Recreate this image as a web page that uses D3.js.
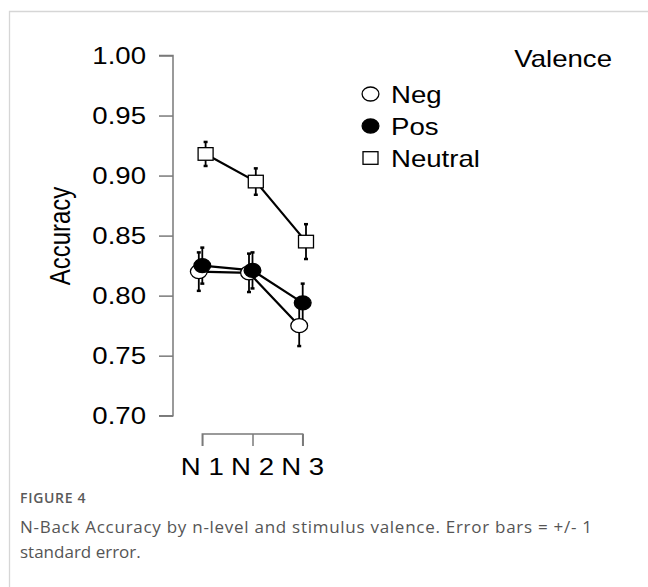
<!DOCTYPE html>
<html>
<head>
<meta charset="utf-8">
<script src="https://cdn.jsdelivr.net/npm/d3@7"></script>
<style>
  html, body { margin: 0; padding: 0; background: #fff; }
  svg { display: block; }
</style>
</head>
<body>
<svg id="chart" width="648" height="587"></svg>
<script>
// ---- data ----
const levels = ["N 1", "N 2", "N 3"];
const seriesNames = ["Neg", "Pos", "Neutral"];
const negMean = [0.820, 0.819, 0.775];
const negSE = [0.016, 0.016, 0.017];
const posMean = [0.825, 0.821, 0.794];
const posSE = [0.015, 0.015, 0.016];
const neutralMean = [0.918, 0.895, 0.845];
const neutralSE = [0.010, 0.011, 0.0145];
const yTicks = [0.70, 0.75, 0.80, 0.85, 0.90, 0.95, 1.00];
const captionTitle = "FIGURE 4";
const captionLines = ["N-Back Accuracy by n-level and stimulus valence. Error bars = +/- 1", "standard error."];

const series = [
  { name: "Neg", mean: negMean, se: negSE, shape: "circle", fill: "#fff", dodge: -3.5 },
  { name: "Pos", mean: posMean, se: posSE, shape: "circle", fill: "#000", dodge: 0 },
  { name: "Neutral", mean: neutralMean, se: neutralSE, shape: "square", fill: "#fff", dodge: 3.3 }
];

const svg = d3.select("#chart");
const SX = 1.2; // horizontal stretch of the original raster
const chartFont = "'Liberation Sans', Arial, Helvetica, sans-serif";

// card border
svg.append("path").attr("d", "M9.5,587 V11.5 H648")
  .attr("fill", "none").attr("stroke", "#d6d6d6").attr("stroke-width", 1.3);

const y = d3.scaleLinear().domain([0.70, 1.00]).range([415.7, 55.5]);
const x = d3.scalePoint().domain(levels).range([202.3, 302.7]);

// y axis
const axisColor = "#7a7a7a";
const yAxis = svg.append("g").attr("transform", "translate(173,0)")
  .call(d3.axisLeft(y).tickValues(yTicks).tickSize(14).tickFormat(""));
yAxis.selectAll("path, line").attr("stroke", axisColor).attr("stroke-width", 1.5);
yAxis.select(".domain").attr("d", `M-14,${y(0.70)}H0V${y(1.00)}H-14`);

svg.append("g").selectAll("text").data(yTicks).join("text")
  .attr("transform", d => `translate(146,${y(d) + 8.3}) scale(${SX},1)`)
  .attr("text-anchor", "end")
  .attr("font-family", chartFont).attr("font-size", 23).attr("fill", "#000")
  .text(d => d3.format(".2f")(d));

// y title
svg.append("text")
  .attr("transform", `translate(69.6,236) scale(${SX},1) rotate(-90)`)
  .attr("text-anchor", "middle")
  .attr("font-family", chartFont).attr("font-size", 24).attr("fill", "#000")
  .text("Accuracy");

// x axis (bracket)
const xAxis = svg.append("g").attr("transform", "translate(0,434)")
  .call(d3.axisBottom(x).tickSize(12).tickSizeOuter(0).tickFormat(""));
xAxis.selectAll("path, line").attr("stroke", axisColor).attr("stroke-width", 1.5);
xAxis.select(".domain").attr("d", `M${x(levels[0])},12V0H${x(levels[2])}V12`);

svg.append("g").selectAll("text").data(levels).join("text")
  .attr("transform", d => `translate(${x(d)},475) scale(${SX},1)`)
  .attr("text-anchor", "middle")
  .attr("font-family", chartFont).attr("font-size", 23).attr("fill", "#000")
  .text(d => d);

// lines
const line = d3.line().x(d => d.x).y(d => d.y);
series.forEach(s => {
  s.pts = levels.map((l, i) => ({ x: x(l) + s.dodge, y: y(s.mean[i]), lo: y(s.mean[i] - s.se[i]), hi: y(s.mean[i] + s.se[i]) }));
});
series.forEach(s => {
  svg.append("path").datum(s.pts).attr("d", line)
    .attr("fill", "none").attr("stroke", "#000").attr("stroke-width", 2.2);
});
// error bars
series.forEach(s => {
  const g = svg.append("g").attr("stroke", "#000");
  g.selectAll("line.v").data(s.pts).join("line").attr("class", "v")
    .attr("x1", d => d.x).attr("x2", d => d.x).attr("y1", d => d.lo).attr("y2", d => d.hi)
    .attr("stroke-width", 1.8);
  g.selectAll("line.c1").data(s.pts).join("line").attr("class", "c1")
    .attr("x1", d => d.x - 2).attr("x2", d => d.x + 2).attr("y1", d => d.lo).attr("y2", d => d.lo)
    .attr("stroke-width", 2.5);
  g.selectAll("line.c2").data(s.pts).join("line").attr("class", "c2")
    .attr("x1", d => d.x - 2).attr("x2", d => d.x + 2).attr("y1", d => d.hi).attr("y2", d => d.hi)
    .attr("stroke-width", 2.5);
});

function drawMarker(sel, s, cx, cy) {
  if (s.shape === "circle") {
    sel.append("ellipse").attr("cx", cx).attr("cy", cy).attr("rx", 8.4).attr("ry", 7)
      .attr("fill", s.fill).attr("stroke", "#000").attr("stroke-width", 1.3);
  } else {
    sel.append("rect").attr("x", cx - 7.5).attr("y", cy - 6.3).attr("width", 15).attr("height", 12.6)
      .attr("fill", s.fill).attr("stroke", "#000").attr("stroke-width", 1.3);
  }
}
// points
series.forEach(s => {
  const g = svg.append("g");
  s.pts.forEach(p => drawMarker(g, s, p.x, p.y));
});

// legend
svg.append("text")
  .attr("transform", `translate(612,67) scale(${SX},1)`)
  .attr("text-anchor", "end")
  .attr("font-family", chartFont).attr("font-size", 23).attr("fill", "#000")
  .text("Valence");
const legRows = [94, 126, 158];
series.forEach((s, i) => {
  const g = svg.append("g");
  drawMarker(g, s, 370.5, legRows[i]);
  g.append("text")
    .attr("transform", `translate(391,${legRows[i] + 8.5}) scale(${SX},1)`)
    .attr("font-family", chartFont).attr("font-size", 23).attr("fill", "#000")
    .text(s.name);
});

// caption
const capFont = "'Open Sans', 'Noto Sans', sans-serif";
svg.append("text").attr("x", 20).attr("y", 502.5)
  .attr("font-family", capFont).attr("font-size", 14).attr("font-weight", 600)
  .attr("letter-spacing", 0.7)
  .attr("fill", "#5a5a5a").text(captionTitle);
svg.append("g").selectAll("text").data(captionLines).join("text")
  .attr("x", 20).attr("y", (d, i) => 533 + i * 25)
  .attr("font-family", capFont).attr("font-size", 17)
  .attr("textLength", (d, i) => i === 0 ? 572 : null)
  .attr("lengthAdjust", "spacing")
  .attr("fill", "#555").text(d => d);
</script>
</body>
</html>
